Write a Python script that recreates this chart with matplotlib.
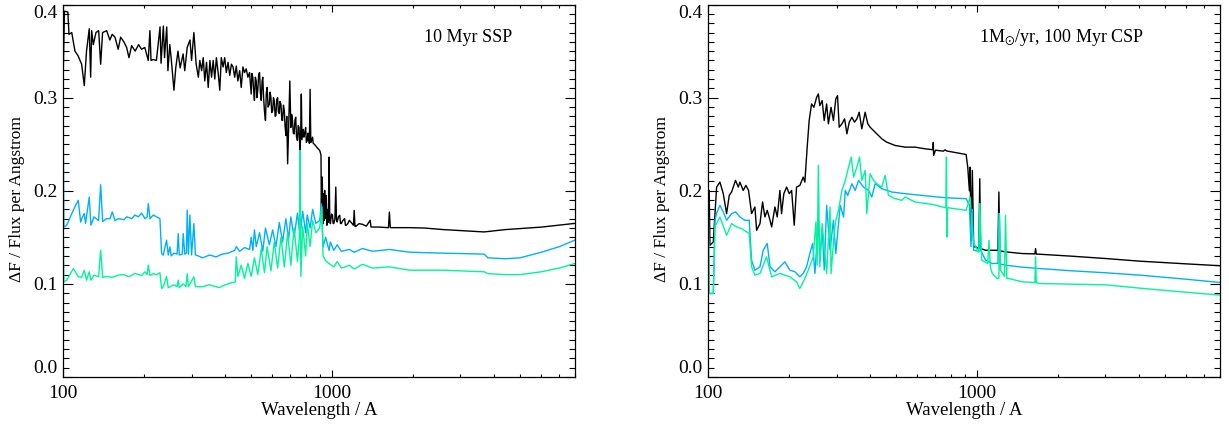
import matplotlib
matplotlib.use("Agg")
import matplotlib.pyplot as plt
from matplotlib.ticker import LogLocator, FixedLocator, FixedFormatter, MultipleLocator, FormatStrFormatter, NullFormatter

plt.rcParams['font.family'] = ['Liberation Serif', 'DejaVu Serif']
plt.rcParams['mathtext.fontset'] = 'stix'

# (wavelength, dF/F) pairs
# ---- 10 Myr SSP (left) ----
ssp_k = [(100, 0.33), (101, 0.393), (104, 0.392), (105, 0.368), (107.5, 0.370), (110.5, 0.350), (113.5, 0.345),
         (117, 0.336), (119.7, 0.313), (122, 0.350), (124.9, 0.374), (126.4, 0.322), (127.5, 0.372), (129.3, 0.357),
         (132.3, 0.370), (135.4, 0.372), (137.7, 0.336), (140, 0.370), (145, 0.372), (149, 0.362), (152, 0.368),
         (155.7, 0.365), (160, 0.352), (163.4, 0.365), (168, 0.360), (172, 0.354), (175.5, 0.343), (179.6, 0.356),
         (185, 0.350), (190.6, 0.357), (195.5, 0.352), (201, 0.354), (207, 0.340), (210, 0.372), (212, 0.340),
         (216, 0.341), (222, 0.340), (229, 0.376), (231, 0.337), (235.6, 0.377), (238, 0.343), (242.5, 0.376),
         (245, 0.329), (249, 0.357), (252, 0.342), (258, 0.308), (262, 0.332), (267, 0.350), (272, 0.332),
         (279, 0.347), (283, 0.329), (289, 0.354), (296, 0.362), (300, 0.340), (306, 0.370), (312, 0.336),
         (318, 0.322), (322, 0.340), (327, 0.329), (331.5, 0.343), (336, 0.318), (341, 0.338), (346, 0.311),
         (351, 0.340), (356, 0.322), (361, 0.340), (366, 0.320), (371, 0.343), (377, 0.326), (382, 0.308),
         (387, 0.343), (393, 0.333), (398.5, 0.343), (404, 0.327), (410, 0.338), (416, 0.324), (422, 0.336),
         (428, 0.333), (434, 0.322), (440, 0.334), (446, 0.318), (453, 0.329), (459, 0.311), (466, 0.333),
         (472, 0.327), (479, 0.331), (486, 0.322), (493, 0.327), (500, 0.304), (503, 0.326), (507, 0.322),
         (510, 0.310), (514, 0.297), (518, 0.322), (522, 0.318), (525, 0.300), (529, 0.308), (533, 0.325),
         (537, 0.327), (541, 0.305), (545, 0.297), (549, 0.318), (552, 0.322), (556, 0.300), (560, 0.286),
         (565, 0.2755), (569, 0.305), (573, 0.311), (578, 0.290), (584, 0.293), (588, 0.306), (592, 0.300),
         (596, 0.284), (601, 0.286), (605, 0.300), (609, 0.297), (614, 0.280), (618, 0.281), (622, 0.298),
         (627, 0.300), (631, 0.285), (636, 0.283), (640, 0.296), (645, 0.293), (650, 0.276), (654, 0.2755),
         (659, 0.292), (664, 0.286), (668, 0.270), (673, 0.2594), (678, 0.280), (683, 0.229), (689, 0.268),
         (696, 0.318), (702, 0.268), (707, 0.282), (712, 0.2755), (717, 0.262), (722, 0.261), (727, 0.276),
         (732, 0.279), (737, 0.258), (743, 0.254), (748, 0.270), (753, 0.268), (756, 0.255), (760, 0.243),
         (764, 0.262), (768, 0.304), (772, 0.255), (777, 0.261), (781, 0.266), (785, 0.2576), (791, 0.262),
         (797, 0.268), (802, 0.252), (808, 0.254), (813, 0.262), (818, 0.256), (823, 0.251), (828, 0.309),
         (833, 0.252), (838, 0.254), (842, 0.256), (846, 0.2576), (850, 0.251), (855, 0.2505), (865, 0.249),
         (876, 0.2469), (888, 0.245), (899, 0.2433), (906, 0.240), (909, 0.238), (912, 0.175), (916, 0.215),
         (920, 0.2076), (923, 0.170), (925, 0.1647), (930, 0.197), (934, 0.168), (938, 0.2005), (942, 0.170),
         (946, 0.185), (951, 0.195), (956, 0.163), (960, 0.180), (965, 0.166), (969, 0.168), (974, 0.2362),
         (980, 0.168), (985, 0.1647), (995, 0.175), (1003, 0.1737), (1008, 0.165), (1014, 0.1647), (1024, 0.170),
         (1032, 0.204), (1038, 0.168), (1044, 0.1665), (1055, 0.172), (1067, 0.1737), (1074, 0.165),
         (1082, 0.1647), (1095, 0.168), (1113, 0.1701), (1120, 0.163), (1128, 0.1629), (1145, 0.165),
         (1159, 0.1683), (1200, 0.163), (1208, 0.1790), (1216, 0.1618), (1224, 0.1618), (1260, 0.1647),
         (1296, 0.164), (1340, 0.162), (1385, 0.1683), (1395, 0.1611), (1500, 0.161), (1620, 0.1604),
         (1633, 0.1772), (1646, 0.1604), (1800, 0.1604), (1946, 0.1604), (2200, 0.160), (2600, 0.1583),
         (3100, 0.157), (3675, 0.1558), (4400, 0.1583), (6000, 0.161), (8000, 0.165)]

ssp_b = [(100, 0.254), (100.5, 0.161), (103, 0.163), (107.4, 0.175), (110.5, 0.183), (113.7, 0.1898), (116, 0.1665),
         (117, 0.170), (119.7, 0.1755), (121, 0.165), (124.9, 0.1933), (126.7, 0.163), (130, 0.172), (135.3, 0.168),
         (137.7, 0.2065), (140.1, 0.167), (145, 0.1701), (149.2, 0.170), (152.2, 0.1773), (155.7, 0.168),
         (160.2, 0.1701), (168.2, 0.169), (172.1, 0.172), (179.6, 0.1701), (184.8, 0.174), (190.1, 0.172),
         (195.6, 0.176), (201.3, 0.170), (205, 0.172), (207.1, 0.1862), (210.1, 0.170), (216.2, 0.174),
         (222.3, 0.172), (228.8, 0.170), (232.1, 0.1326), (235.4, 0.1308), (242.2, 0.147), (245.7, 0.131),
         (249.2, 0.1398), (252, 0.130), (257.8, 0.133), (265, 0.132), (267.6, 0.1541), (270, 0.131), (277, 0.132),
         (279.3, 0.1541), (283, 0.132), (287, 0.133), (289, 0.1791), (292, 0.132), (295.7, 0.174), (300, 0.131),
         (306, 0.1648), (310, 0.131), (313, 0.1308), (330, 0.128), (350, 0.131), (370, 0.129), (390, 0.132),
         (410, 0.133), (434, 0.136), (440, 0.140), (453, 0.135), (472, 0.139), (493, 0.137), (500, 0.150),
         (507, 0.136), (514, 0.158), (522, 0.140), (537, 0.155), (552, 0.135), (565, 0.160), (584, 0.142),
         (601, 0.158), (618, 0.140), (636, 0.166), (654, 0.145), (673, 0.170), (689, 0.148), (702, 0.172),
         (722, 0.150), (743, 0.176), (760, 0.152), (777, 0.178), (797, 0.155), (808, 0.174), (828, 0.160),
         (846, 0.180), (870, 0.165), (899, 0.168), (912, 0.186), (925, 0.1397), (946, 0.150), (974, 0.136),
         (985, 0.145), (1014, 0.136), (1044, 0.142), (1082, 0.135), (1159, 0.137), (1208, 0.134), (1296, 0.138),
         (1412, 0.135), (1633, 0.137), (1946, 0.134), (2600, 0.133), (3675, 0.132), (3800, 0.128), (4400, 0.127),
         (5000, 0.128), (6000, 0.134), (7000, 0.140), (8000, 0.147)]

ssp_g = [(100, 0.1485), (100.5, 0.102), (103, 0.104), (109, 0.1165), (113.7, 0.1076), (117, 0.107), (119.7, 0.1147),
         (122.1, 0.104), (124.9, 0.113), (126.7, 0.104), (130, 0.1094), (135.3, 0.1076), (137.7, 0.1362),
         (140.1, 0.107), (145, 0.108), (152, 0.107), (160, 0.1094), (168, 0.110), (175.5, 0.1076), (184.8, 0.1112),
         (195.6, 0.109), (201.3, 0.113), (205, 0.110), (207.1, 0.1201), (210.1, 0.109), (216.2, 0.111),
         (222.3, 0.110), (228.8, 0.1119), (232.1, 0.0951), (235.4, 0.097), (242.2, 0.108), (245.7, 0.096),
         (257.8, 0.099), (265, 0.097), (267.6, 0.104), (270, 0.096), (279.3, 0.100), (286, 0.097), (289, 0.111),
         (292, 0.097), (306, 0.1076), (310, 0.097), (330, 0.097), (350, 0.099), (380, 0.096), (400, 0.099),
         (420, 0.101), (436, 0.102), (440, 0.129), (446, 0.108), (459, 0.120), (472, 0.106), (486, 0.122),
         (500, 0.108), (514, 0.128), (529, 0.110), (545, 0.138), (560, 0.112), (573, 0.140), (592, 0.114),
         (609, 0.145), (627, 0.117), (645, 0.150), (664, 0.118), (683, 0.155), (702, 0.120), (722, 0.160),
         (743, 0.124), (755, 0.150), (760, 0.2434), (765, 0.108), (777, 0.162), (797, 0.130), (808, 0.165),
         (828, 0.140), (846, 0.168), (870, 0.155), (899, 0.160), (916, 0.1826), (925, 0.130), (946, 0.125),
         (974, 0.1218), (1014, 0.1183), (1044, 0.124), (1082, 0.117), (1159, 0.120), (1208, 0.116), (1296, 0.121),
         (1412, 0.117), (1633, 0.1183), (1946, 0.1147), (2600, 0.1147), (3675, 0.113), (3800, 0.111),
         (4400, 0.110), (5000, 0.110), (6000, 0.113), (7000, 0.117), (8000, 0.122)]

# ---- 1 Msun/yr, 100 Myr CSP (right) ----
csp_k = [(100, 0.2004), (100.8, 0.2004), (101.4, 0.1415), (104.4, 0.145), (107.4, 0.204), (110.5, 0.2093),
         (113.7, 0.1969), (117, 0.1755), (119.7, 0.1951), (122.1, 0.1987), (126.3, 0.2112), (129.3, 0.204),
         (131.1, 0.2093), (134.9, 0.2004), (138, 0.2058), (141.2, 0.2004), (144.9, 0.1755), (149.1, 0.1826),
         (151.3, 0.1576), (155.7, 0.1647), (159.2, 0.188), (162.4, 0.1719), (165.7, 0.179), (169.7, 0.1683),
         (172.1, 0.1612), (177, 0.1826), (180.5, 0.1719), (184.7, 0.2004), (187.3, 0.1755), (191, 0.1969),
         (195.6, 0.204), (200.1, 0.1969), (204.2, 0.2004), (208.8, 0.163), (213, 0.204), (219.1, 0.2058),
         (225.5, 0.2147), (228.7, 0.2093), (233.3, 0.2469), (237.3, 0.2755), (242.2, 0.2933), (247.1, 0.2897),
         (253, 0.3005), (256.7, 0.3041), (259.9, 0.2915), (265.2, 0.2969), (269.9, 0.2755), (275.6, 0.2933),
         (279.7, 0.2719), (286.2, 0.2897), (292.1, 0.2755), (298.1, 0.2987), (302.5, 0.3023), (306.9, 0.2683),
         (314.1, 0.2719), (321.4, 0.2773), (327.9, 0.2612), (334.5, 0.2737), (342.1, 0.279), (350, 0.2737),
         (357.1, 0.2773), (364.2, 0.2844), (372.5, 0.2665), (383.3, 0.2844), (392.1, 0.2719), (400, 0.2683),
         (411.6, 0.2647), (423.5, 0.2612), (442.1, 0.2558), (461.3, 0.2522), (495.3, 0.2487), (539.5, 0.2469),
         (587.6, 0.2469), (640, 0.2451), (685, 0.2441), (687, 0.252), (689, 0.238), (700, 0.2436), (749, 0.2426),
         (760, 0.244), (770, 0.2428), (910, 0.239), (923, 0.2254), (936, 0.200), (942, 0.2254), (949, 0.1468),
         (960, 0.2219), (971, 0.1397), (989, 0.1397), (1015, 0.138), (1023, 0.2129), (1030, 0.138), (1076, 0.1361),
         (1139, 0.1361), (1195, 0.1361), (1205, 0.1987), (1215, 0.1355), (1275, 0.1344), (1470, 0.1326),
         (1640, 0.1322), (1650, 0.1379), (1660, 0.132), (1698, 0.1319), (2264, 0.1297), (3020, 0.1272),
         (4030, 0.1244), (6000, 0.1215), (8000, 0.1195)]

csp_b = [(100, 0.1898), (100.8, 0.0897), (104.4, 0.0897), (105.9, 0.1683), (107.4, 0.176), (110.5, 0.1844),
         (113.7, 0.1773), (117, 0.1683), (122.1, 0.1755), (126.3, 0.1773), (131.1, 0.1719), (136.9, 0.1683),
         (142, 0.1683), (144.9, 0.1254), (149.1, 0.1147), (155.7, 0.1183), (160.1, 0.1362), (165.7, 0.1434),
         (169.7, 0.1183), (177, 0.113), (184.7, 0.1183), (192.7, 0.1237), (201.3, 0.1147), (210, 0.113),
         (219.1, 0.1076), (225.5, 0.1112), (232.1, 0.1183), (238.7, 0.1326), (244.4, 0.1434), (249.3, 0.1112),
         (256.7, 0.1683), (260, 0.125), (265.2, 0.160), (270, 0.115), (275.6, 0.1844), (283.8, 0.1362),
         (292.1, 0.1683), (298.1, 0.1326), (309.6, 0.1844), (318.6, 0.1719), (323.3, 0.2004), (330, 0.195),
         (342.1, 0.2076), (352, 0.2004), (362.2, 0.2112), (377.9, 0.204), (394.4, 0.2004), (405.8, 0.1933),
         (417.5, 0.2076), (442.1, 0.2022), (481.4, 0.1987), (539.5, 0.1969), (587.6, 0.1958), (678, 0.194),
         (759.7, 0.1926), (910, 0.1915), (936, 0.185), (949, 0.140), (960, 0.180), (971, 0.1361), (1015, 0.135),
         (1023, 0.1862), (1030, 0.1361), (1076, 0.1254), (1139, 0.1219), (1195, 0.122), (1205, 0.1755),
         (1215, 0.1215), (1275, 0.1201), (1470, 0.118), (1698, 0.1165), (2264, 0.114), (3020, 0.1119),
         (4030, 0.1094), (6000, 0.105), (8000, 0.1015)]

csp_g = [(100, 0.179), (100.8, 0.0897), (104.4, 0.0897), (105.9, 0.1612), (110.5, 0.1719), (117, 0.1522),
         (122.1, 0.1647), (127.4, 0.1612), (133, 0.1594), (142, 0.154), (144.9, 0.1183), (149.1, 0.1094),
         (155.7, 0.1112), (164.7, 0.129), (172.1, 0.1076), (184.7, 0.1112), (201.3, 0.1076), (213, 0.1022),
         (219.1, 0.0951), (228.7, 0.1058), (235.4, 0.1147), (245.7, 0.129), (251.5, 0.1665), (254, 0.120),
         (256.7, 0.2273), (259.9, 0.1183), (265.2, 0.1647), (275.6, 0.1112), (283.8, 0.1826), (286.2, 0.1112),
         (294.7, 0.1576), (298.1, 0.1683), (305.1, 0.179), (314.1, 0.2004), (323.3, 0.2112), (332.6, 0.2255),
         (340.2, 0.2362), (347, 0.2147), (357.1, 0.2255), (365.3, 0.2362), (372.5, 0.2112), (383.3, 0.2219),
         (388.8, 0.1755), (400, 0.2183), (411.6, 0.2112), (423.5, 0.2076), (442.1, 0.204), (454.8, 0.2165),
         (467.9, 0.1951), (495.3, 0.1915), (524.4, 0.1898), (539.5, 0.1933), (587.6, 0.188), (678, 0.1855),
         (759.7, 0.1819), (765, 0.1819), (769, 0.2362), (772, 0.1504), (776, 0.1819), (910, 0.179), (942, 0.1933),
         (960, 0.154), (975, 0.1433), (1003, 0.1361), (1015, 0.134), (1023, 0.1862), (1040, 0.1254),
         (1095, 0.122), (1107, 0.1468), (1120, 0.118), (1139, 0.1111), (1188, 0.1058), (1205, 0.106),
         (1212, 0.1755), (1222, 0.1147), (1265, 0.108), (1275, 0.1737), (1290, 0.1058), (1312, 0.1058),
         (1470, 0.1022), (1640, 0.1015), (1650, 0.129), (1660, 0.1015), (1698, 0.1004), (2264, 0.0997),
         (3020, 0.099), (4030, 0.0954), (6000, 0.091), (8000, 0.088)]

panel_labels = ['10 Myr SSP', r'1M$_{\odot}$/yr, 100 Myr CSP']
y_ticks = [0.0, 0.1, 0.2, 0.3, 0.4]
col_k, col_b, col_g = 'black', '#00b0ff', '#00f59a'

fig = plt.figure(figsize=(12.29, 4.30), dpi=100)
ax1 = fig.add_axes([0.0515, 0.1233, 0.4163, 0.866])
ax2 = fig.add_axes([0.5763, 0.1233, 0.4163, 0.866])

panels = [(ax1, ssp_k, ssp_b, ssp_g, panel_labels[0], 0.877),
          (ax2, csp_k, csp_b, csp_g, panel_labels[1], 0.852)]

for ax, k, b, g, lab, lx in panels:
    for data, c in [(k, col_k), (b, col_b), (g, col_g)]:
        wl, f = zip(*data)
        ax.plot(wl, f, color=c, lw=1.0)
    ax.set_xscale('log')
    ax.set_xlim(100, 8000)
    ax.set_ylim(0.0, 0.4)
    ax.xaxis.set_major_locator(FixedLocator([100, 1000]))
    ax.xaxis.set_major_formatter(FixedFormatter(['100', '1000']))
    ax.xaxis.set_minor_locator(LogLocator(base=10, subs=range(2, 10)))
    ax.xaxis.set_minor_formatter(NullFormatter())
    ax.yaxis.set_major_locator(FixedLocator(y_ticks))
    ax.yaxis.set_minor_locator(MultipleLocator(0.01))
    ax.yaxis.set_major_formatter(FormatStrFormatter('%.1f'))
    ax.tick_params(which='both', direction='in', top=True, right=True, labelsize=14, width=0.8)
    ax.tick_params(axis='x', which='major', length=5, pad=6)
    ax.tick_params(axis='x', which='minor', length=2.5)
    ax.tick_params(axis='y', which='major', length=7.5, pad=4)
    ax.tick_params(axis='y', which='minor', length=4)
    for s in ax.spines.values():
        s.set_linewidth(0.9)
    ax.set_xlabel('Wavelength / A', fontsize=13.5, labelpad=0)
    ax.set_ylabel('ΔF / Flux per Angstrom', fontsize=12.5)
    ax.yaxis.set_label_coords(-0.074, 0.478)
    ax.text(lx, 0.9, lab, transform=ax.transAxes, ha='right', va='baseline', fontsize=13)
    yt = ax.yaxis.get_major_ticks()
    yt[0].label1.set_va('bottom')
    yt[-1].label1.set_va('top')

fig.savefig('out.png', dpi=100)
